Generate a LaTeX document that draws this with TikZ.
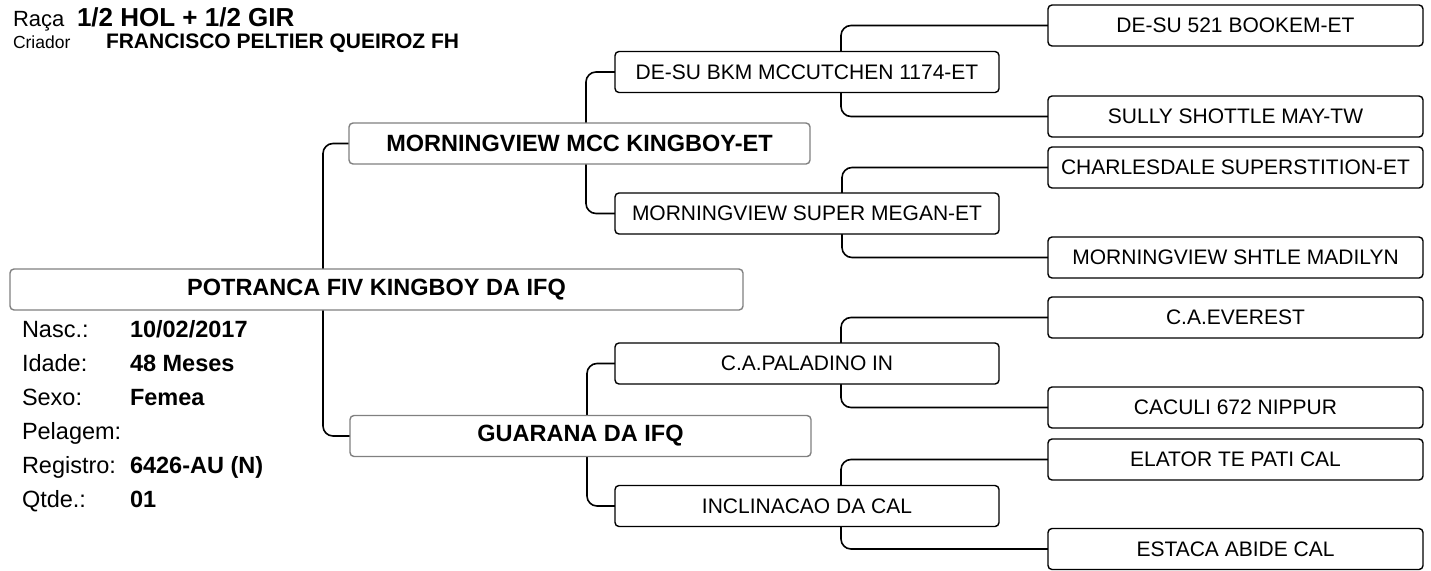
\documentclass[tikz,border=0pt]{standalone}
\usepackage{fontspec}
\setmainfont{Liberation Sans}
\usetikzlibrary{positioning,backgrounds}

\begin{document}
\begin{tikzpicture}[x=1pt,y=-1pt,
	every node/.style={inner sep=0pt,outer sep=0pt},
	animal/.style={draw=gray,line width=1.4pt,rounded corners=4pt,fill=white,
		minimum height=41pt,font=\fontsize{23.5}{28}\selectfont\bfseries},
	anc/.style={draw=black,line width=1.4pt,rounded corners=4pt,fill=white,
		minimum height=41pt,font=\fontsize{21}{25}\selectfont},
	gen2/.style={anc,minimum width=384pt},
	gen3/.style={anc,minimum width=375pt},
	link/.style={draw,line width=1.6pt,rounded corners=10pt},
	lbl/.style={anchor=base west,font=\fontsize{23.5}{28}\selectfont},
	val/.style={lbl,font=\fontsize{23.5}{28}\selectfont\bfseries},]

	\useasboundingbox (0,0) rectangle (1431,570);

	% header
	\node [anchor=base west,font=\fontsize{22}{26}\selectfont] (raca) at (13,27) {Raça};
	\node [anchor=base west,font=\fontsize{26}{30}\selectfont\bfseries] (racav) at (77,27) {1/2 HOL + 1/2 GIR};
	\node [anchor=base west,font=\fontsize{17.5}{21}\selectfont] (criador) at (13,48) {Criador};
	\node [anchor=base west,font=\fontsize{21}{25}\selectfont\bfseries] (criadorv) at (106,48) {FRANCISCO PELTIER QUEIROZ FH};

	% animal
	\node [animal,minimum width=733pt] (main) at (376.5,289.5) {POTRANCA FIV KINGBOY DA IFQ};
	\node [lbl] (nasc) at (22,337) {Nasc.:};
	\node [val] (nascv) at (130,337) {10/02/2017};
	\node [lbl] (idade) at (22,371) {Idade:};
	\node [val] (idadev) at (130,371) {48 Meses};
	\node [lbl] (sexo) at (22,405) {Sexo:};
	\node [val] (sexov) at (130,405) {Femea};
	\node [lbl] (pelagem) at (22,439) {Pelagem:};
	\node [lbl] (registro) at (22,473) {Registro:};
	\node [val] (registrov) at (130,473) {6426-AU (N)};
	\node [lbl] (qtde) at (22,507) {Qtde.:};
	\node [val] (qtdev) at (130,507) {01};

	% parents
	\node [animal,minimum width=461pt] (s) at (579.5,143.5) {MORNINGVIEW MCC KINGBOY-ET};
	\node [animal,minimum width=461pt] (d) at (580.5,436) {GUARANA DA IFQ};

	% grandparents
	\node [gen2] (ss) at (807,72) {DE-SU BKM MCCUTCHEN 1174-ET};
	\node [gen2] (sd) at (807,213.5) {MORNINGVIEW SUPER MEGAN-ET};
	\node [gen2] (ds) at (807,363.5) {C.A.PALADINO IN};
	\node [gen2] (dd) at (807,506) {INCLINACAO DA CAL};

	% great-grandparents
	\node [gen3] (sss) at (1235.5,25.5) {DE-SU 521 BOOKEM-ET};
	\node [gen3] (ssd) at (1235.5,116.5) {SULLY SHOTTLE MAY-TW};
	\node [gen3] (sds) at (1235.5,167.5) {CHARLESDALE SUPERSTITION-ET};
	\node [gen3] (sdd) at (1235.5,257.5) {MORNINGVIEW SHTLE MADILYN};
	\node [gen3] (dss) at (1235.5,317.5) {C.A.EVEREST};
	\node [gen3] (dsd) at (1235.5,407.5) {CACULI 672 NIPPUR};
	\node [gen3] (dds) at (1235.5,459.5) {ELATOR TE PATI CAL};
	\node [gen3] (ddd) at (1235.5,549) {ESTACA ABIDE CAL};

	% joints behind the boxes
	\coordinate (j) at (323,289.5);
	\coordinate (js) at (586,143.5);
	\coordinate (jd) at (587,436);
	\coordinate (jss) at (841,72);
	\coordinate (jsd) at (842,213.5);
	\coordinate (jds) at (841,363.5);
	\coordinate (jdd) at (841,506);

	\begin{scope}[on background layer]
		\draw[link] (s.west) -| (j) |- (d.west);
		\draw[link] (ss.west) -| (js) |- (sd.west);
		\draw[link] (ds.west) -| (jd) |- (dd.west);
		\draw[link] (sss.west) -| (jss) |- (ssd.west);
		\draw[link] (sds.west) -| (jsd) |- (sdd.west);
		\draw[link] (dss.west) -| (jds) |- (dsd.west);
		\draw[link] (dds.west) -| (jdd) |- (ddd.west);
	\end{scope}
\end{tikzpicture}
\end{document}
